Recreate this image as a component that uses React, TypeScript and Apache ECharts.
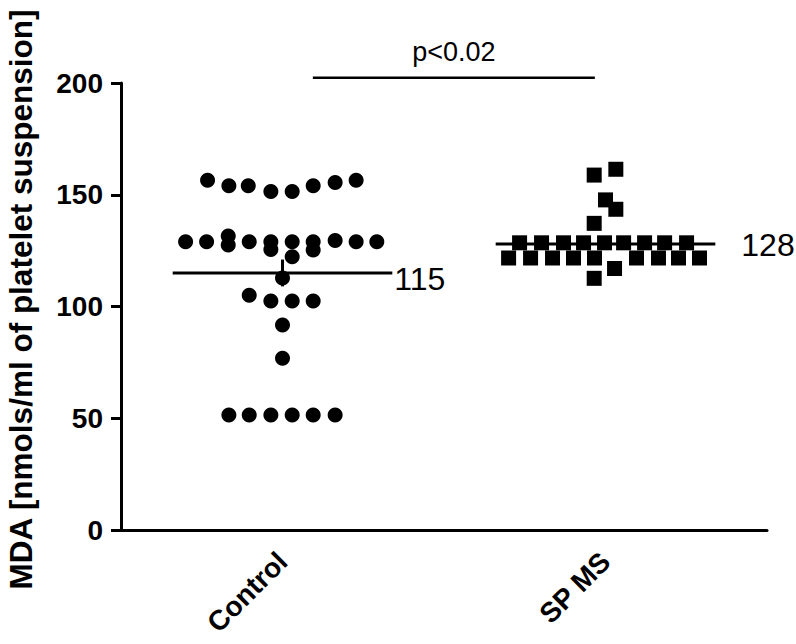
import React, { useEffect, useRef } from "react";
import * as echarts from "echarts";

const categories = ["Control", "SP MS"];
const yTicks = [0, 50, 100, 150, 200];

// Control group: values and horizontal scatter offsets (jitter)
const controlValues = [
  156.5, 154, 154, 151.5, 151.5, 154, 155.5, 156.5,
  129, 129, 131.5, 127.5, 129, 129, 125.5, 129, 122.3, 129, 125.3, 129.5, 129, 129,
  112.7,
  105, 102.5, 102.5, 102.5,
  91.7, 76.8,
  51.5, 51.5, 51.5, 51.5, 51.5, 51.5,
];
const controlOffsets = [
  -0.232, -0.166, -0.106, -0.036, 0.03, 0.095, 0.163, 0.228,
  -0.3, -0.235, -0.168, -0.168, -0.103, -0.036, -0.036, 0.03, 0.03, 0.095, 0.095, 0.163, 0.228, 0.292,
  0,
  -0.103, -0.036, 0.03, 0.095,
  0, 0,
  -0.166, -0.103, -0.036, 0.03, 0.095, 0.163,
];

// SP MS group
const spmsValues = [
  161.4, 158.8, 147.7, 143.5, 137.2,
  128.5, 128.5, 128.5, 128.5, 128.5, 128.5, 128.5, 128.5, 128.5,
  121.7, 121.7, 121.7, 121.7, 121.7, 117, 121.7, 121.7, 121.7, 121.7,
  112.6,
];
const spmsOffsets = [
  0.032, -0.035, 0, 0.032, -0.035,
  -0.266, -0.198, -0.13, -0.068, -0.003, 0.056, 0.121, 0.183, 0.251,
  -0.3, -0.232, -0.164, -0.099, -0.034, 0.028, 0.096, 0.164, 0.226, 0.291,
  -0.035,
];

const means = [115, 128];
const sems = [6, 1.5];
const meanLabels = ["115", "128"];
const pText = "p<0.02";
const pLevel = 202.3;
const pFrom = 0.094;
const pTo = 0.967;

const FONT = "'Liberation Sans', Arial, Helvetica, sans-serif";
const labelShift = [
  [2, 6],
  [26, 1],
];

export default function App() {
  const ref = useRef<HTMLDivElement>(null);

  useEffect(() => {
    if (!ref.current) return;
    const chart = echarts.init(ref.current, undefined, { renderer: "svg" });

    const controlData = controlValues.map((v, i) => [0 + controlOffsets[i], v]);
    const spmsData = spmsValues.map((v, i) => [1 + spmsOffsets[i], v]);
    const meanData = means.map((m, i) => [i, m, sems[i]]);

    chart.setOption({
      animation: false,
      backgroundColor: "#ffffff",
      grid: { left: 121, right: 29, top: 83, bottom: 114, containLabel: false, outerBoundsMode: "none" },
      xAxis: [
        {
          type: "category",
          data: categories,
          boundaryGap: true,
          axisLine: { lineStyle: { color: "#000", width: 3 } },
          axisTick: { alignWithLabel: true, length: 11, lineStyle: { color: "#000", width: 3 } },
          axisLabel: {
            rotate: 45,
            margin: 27,
            color: "#000",
            fontSize: 28,
            fontWeight: "bold",
            fontFamily: FONT,
          },
          splitLine: { show: false },
        },
        {
          type: "value",
          min: -0.5,
          max: 1.5,
          show: false,
          splitLine: { show: false },
        },
      ],
      yAxis: {
        type: "value",
        min: 0,
        max: 200,
        interval: 50,
        name: "MDA [nmols/ml of platelet suspension]",
        nameLocation: "middle",
        nameGap: 84,
        nameTextStyle: {
          color: "#000",
          fontSize: 31.5,
          fontWeight: "bold",
          fontFamily: FONT,
          padding: [0, 0, 0, 14],
        },
        axisLine: { show: true, onZero: false, lineStyle: { color: "#000", width: 3 } },
        axisTick: { show: true, length: 10, lineStyle: { color: "#000", width: 3 } },
        axisLabel: {
          margin: 18,
          color: "#000",
          fontSize: 28,
          fontWeight: "bold",
          fontFamily: FONT,
          formatter: (v: number) => (yTicks.includes(v) ? String(v) : ""),
        },
        splitLine: { show: false },
      },
      series: [
        {
          type: "scatter",
          xAxisIndex: 1,
          data: controlData,
          symbol: "circle",
          symbolSize: 15,
          itemStyle: { color: "#000", opacity: 1 },
        },
        {
          type: "scatter",
          xAxisIndex: 1,
          data: spmsData,
          symbol: "rect",
          symbolSize: 15,
          itemStyle: { color: "#000", opacity: 1 },
        },
        {
          type: "custom",
          xAxisIndex: 1,
          data: meanData,
          z: 5,
          encode: { x: 0, y: 1 },
          renderItem: (params: any, api: any) => {
            const i = api.value(0);
            const m = api.value(1);
            const s = api.value(2);
            const l = api.coord([i - 0.34, m]);
            const r = api.coord([i + 0.34, m]);
            const t = api.coord([i, m + s]);
            const b = api.coord([i, m - s]);
            const sh = labelShift[params.dataIndex];
            return {
              type: "group",
              children: [
                { type: "line", shape: { x1: l[0], y1: l[1], x2: r[0], y2: r[1] }, style: { stroke: "#000", lineWidth: 3 } },
                { type: "line", shape: { x1: t[0], y1: t[1], x2: b[0], y2: b[1] }, style: { stroke: "#000", lineWidth: 3 } },
                {
                  type: "text",
                  x: r[0] + sh[0],
                  y: r[1] + sh[1],
                  style: {
                    text: meanLabels[params.dataIndex],
                    fill: "#000",
                    fontSize: 32,
                    fontFamily: FONT,
                    align: "left",
                    verticalAlign: "middle",
                  },
                },
              ],
            };
          },
        },
        {
          type: "line",
          xAxisIndex: 1,
          data: [
            [pFrom, pLevel],
            [pTo, pLevel],
          ],
          clip: false,
          symbol: "none",
          lineStyle: { color: "#000", width: 2.5 },
        },
        {
          type: "scatter",
          xAxisIndex: 1,
          data: [[(pFrom + pTo) / 2, pLevel]],
          clip: false,
          symbolSize: 0,
          itemStyle: { opacity: 1 },
          label: {
            show: true,
            position: "top",
            distance: 12,
            formatter: pText,
            color: "#000",
            fontSize: 27,
            fontFamily: FONT,
          },
        },
      ],
    });

    return () => chart.dispose();
  }, []);

  return (
    <div
      ref={ref}
      style={{ position: "absolute", left: 0, top: 0, width: 796, height: 644 }}
    />
  );
}
